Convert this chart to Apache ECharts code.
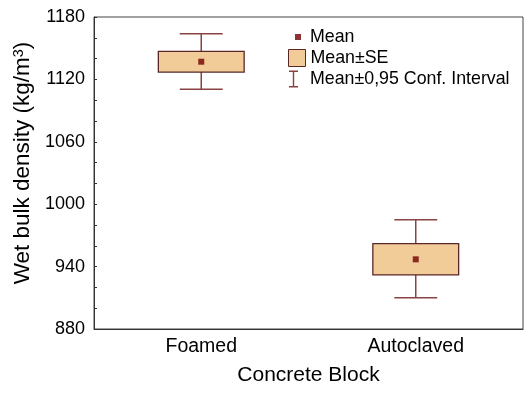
<!DOCTYPE html>
<html><head><meta charset="utf-8">
<script src="https://cdn.jsdelivr.net/npm/echarts@6/dist/echarts.min.js"></script>
<style>html,body{margin:0;padding:0;background:#fff}#c{width:532px;height:396px}</style>
</head><body><div id="c"></div>
<script>
const categories = ['Foamed', 'Autoclaved'];
const means = [1137, 947];
const seLow = [1127, 932];
const seHigh = [1147, 962];
const ciLow = [1110.5, 910];
const ciHigh = [1164, 985];
const yMin = 880, yMax = 1180, yStep = 60;

const FONT = 'Arial, "Liberation Sans", sans-serif';
const boxFill = '#F2CC98', boxBorder = '#5A2626', whisker = '#8B4242', meanColor = '#720000';

const ciData = categories.map((c, i) => [i, ciLow[i], ciHigh[i]]);
const seData = categories.map((c, i) => [i, seLow[i], seHigh[i]]);
const meanData = categories.map((c, i) => [i, means[i]]);

const chart = echarts.init(document.getElementById('c'), null, {renderer: 'canvas'});
const legendText = {fontSize: 17.8, color: '#000', fontFamily: FONT};
const option = {
  animation: false,
  grid: {left: 94, top: 17, right: 9, bottom: 67, show: true, borderColor: '#444', borderWidth: 1},
  legend: [
    {data: [{name: 'Mean', icon: 'rect', itemStyle: {color: meanColor}}], left: 295, top: 28, padding: 0,
     itemWidth: 6, itemHeight: 6, selectedMode: false, textStyle: Object.assign({padding: [0, 0, 0, 4]}, legendText)},
    {data: [{name: 'Mean±SE', icon: 'rect', itemStyle: {color: boxFill, borderColor: boxBorder, borderWidth: 1}}],
     left: 288, top: 49, padding: 0, itemWidth: 17, itemHeight: 17, selectedMode: false, textStyle: legendText},
    {data: [{name: 'Mean±0,95 Conf. Interval', icon: 'path://M0,0H9V1.4H0Z M3.8,1H5.2V16H3.8Z M0,15.6H9V17H0Z', itemStyle: {color: whisker}}],
     left: 289, top: 70, padding: 0, itemWidth: 9, itemHeight: 17, selectedMode: false,
     textStyle: Object.assign({padding: [0, 0, 0, 7]}, legendText)}
  ],
  xAxis: {
    type: 'category', data: categories, boundaryGap: true,
    axisLine: {lineStyle: {color: '#333'}},
    axisTick: {inside: true, alignWithLabel: true, length: 3, lineStyle: {color: '#333'}},
    axisLabel: {color: '#000', fontSize: 19.5, fontFamily: FONT, margin: 8},
    name: 'Concrete Block', nameLocation: 'middle', nameGap: 36,
    nameTextStyle: {color: '#000', fontSize: 21, fontFamily: FONT}
  },
  yAxis: {
    type: 'value', min: yMin, max: yMax, interval: yStep,
    axisLine: {show: true, lineStyle: {color: '#333'}},
    axisTick: {show: true, inside: true, length: 3, lineStyle: {color: '#333'}},
    minorTick: {show: true, splitNumber: 3, length: 3, lineStyle: {color: '#333'}},
    splitLine: {show: false},
    axisLabel: {color: '#000', fontSize: 18, fontFamily: FONT, margin: 9, formatter: v => String(v)},
    name: '{a|Wet bulk density (kg/m}{s|3}{a|)}', nameLocation: 'middle', nameGap: 43,
    nameTextStyle: {color: '#000', fontSize: 22.5, fontFamily: FONT, padding: [0, 0, 0, 20],
      rich: {a: {fontSize: 22.5, fontFamily: FONT, color: '#000'},
             s: {fontSize: 14.5, fontFamily: FONT, color: '#000', verticalAlign: 'top', padding: [0, 0, 6, 0]}}}
  },
  series: [
    {
      name: 'Mean±0,95 Conf. Interval', type: 'custom', data: ciData, z: 2,
      encode: {x: 0, y: [1, 2]},
      renderItem(params, api) {
        const x = api.value(0);
        const lo = api.coord([x, api.value(1)]);
        const hi = api.coord([x, api.value(2)]);
        const cw = api.size([1, 0])[0] * 0.2;
        const style = {stroke: whisker, lineWidth: 1.5, fill: null};
        return {type: 'group', children: [
          {type: 'line', shape: {x1: lo[0], y1: lo[1], x2: hi[0], y2: hi[1]}, style},
          {type: 'line', shape: {x1: hi[0] - cw / 2, y1: hi[1], x2: hi[0] + cw / 2, y2: hi[1]}, style},
          {type: 'line', shape: {x1: lo[0] - cw / 2, y1: lo[1], x2: lo[0] + cw / 2, y2: lo[1]}, style}
        ]};
      }
    },
    {
      name: 'Mean±SE', type: 'custom', data: seData, z: 3,
      encode: {x: 0, y: [1, 2]},
      renderItem(params, api) {
        const x = api.value(0);
        const lo = api.coord([x, api.value(1)]);
        const hi = api.coord([x, api.value(2)]);
        const w = api.size([1, 0])[0] * 0.4;
        return {type: 'rect', shape: {x: lo[0] - w / 2, y: hi[1], width: w, height: lo[1] - hi[1]},
          style: {fill: boxFill, stroke: boxBorder, lineWidth: 1.3}};
      }
    },
    {
      name: 'Mean', type: 'scatter', data: meanData, z: 4,
      symbol: 'rect', symbolSize: 6, itemStyle: {color: meanColor}
    }
  ]
};
chart.setOption(option);
</script></body></html>
